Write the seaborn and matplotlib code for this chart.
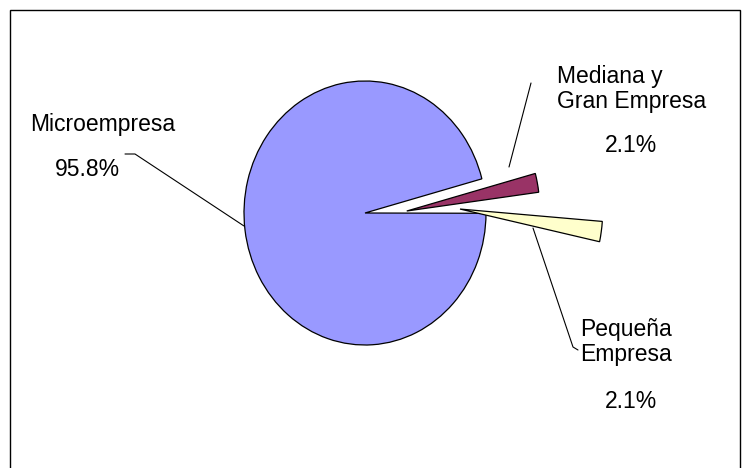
import matplotlib
matplotlib.use("Agg")
import matplotlib.pyplot as plt
from matplotlib.lines import Line2D
from matplotlib.patches import Rectangle
import seaborn as sns

# ---- data ----
categories = ["Microempresa", "Pequeña\nEmpresa", "Mediana y\nGran Empresa"]
shares = [95.8, 2.1, 2.1]
colors = ["#9999FF", "#FFFFCC", "#993366"]

sns.set_theme(style="white")
plt.rcParams["font.family"] = ["Liberation Sans", "DejaVu Sans"]

W, H = 750, 468
fig = plt.figure(figsize=(W / 100, H / 100), dpi=100)
ax = fig.add_axes([0, 0, 1, 1])

def fx(x):
    return x / W
def fy(y):
    return 1 - y / H

wedges, _ = ax.pie(shares, colors=colors, startangle=15, counterclock=True,
                   wedgeprops=dict(edgecolor="black", linewidth=0.9))

# layout: pie centre and radii in pixels (ellipse)
cx, cy, rx, ry = 365, 213, 121, 132
ax.set_aspect("auto")
ax.set_xlim(-cx / rx, (W - cx) / rx)
ax.set_ylim(-(H - cy) / ry, cy / ry)
ax.axis("off")

# exploded small slices (style: offset centre, radius, rotation)
explode_style = {
    1: dict(center=(0.785, 0.03), radius=1.18, rot=-12.0),
    2: dict(center=(0.345, 0.015), radius=1.10, rot=0.0),
}
for i, st in explode_style.items():
    w = wedges[i]
    t1, t2 = w.theta1, w.theta2
    w.set_center(st["center"])
    w.set_radius(st["radius"])
    w.set_theta1(t1 + st["rot"])
    w.set_theta2(t2 + st["rot"])

fs = 16.5
# labels: names left aligned, percentages centred
name_pos = [(30, 125), (580, 342), (557, 89)]
pct_pos = [(87, 170), (631, 402), (631, 146)]
for name, v, (nx, ny), (px, py) in zip(categories, shares, name_pos, pct_pos):
    fig.text(fx(nx), fy(ny), name, ha="left", va="center", fontsize=fs,
             linespacing=1.15, color="black")
    fig.text(fx(px), fy(py), f"{v:.1f}%", ha="center", va="center",
             fontsize=fs, color="black")

# leader lines
leaders = [
    [(125, 154), (135, 154), (244, 226)],
    [(533, 228), (573, 347), (578, 350)],
    [(531, 83), (509, 167)],
]
for pts in leaders:
    fig.add_artist(Line2D([fx(p[0]) for p in pts], [fy(p[1]) for p in pts],
                          color="black", linewidth=0.8))

# chart border
fig.add_artist(Rectangle((fx(10), fy(475)), fx(730), 465 / H, fill=False,
                         edgecolor="black", linewidth=1.0,
                         transform=fig.transFigure))

fig.savefig("out.png", dpi=100, facecolor="white")
